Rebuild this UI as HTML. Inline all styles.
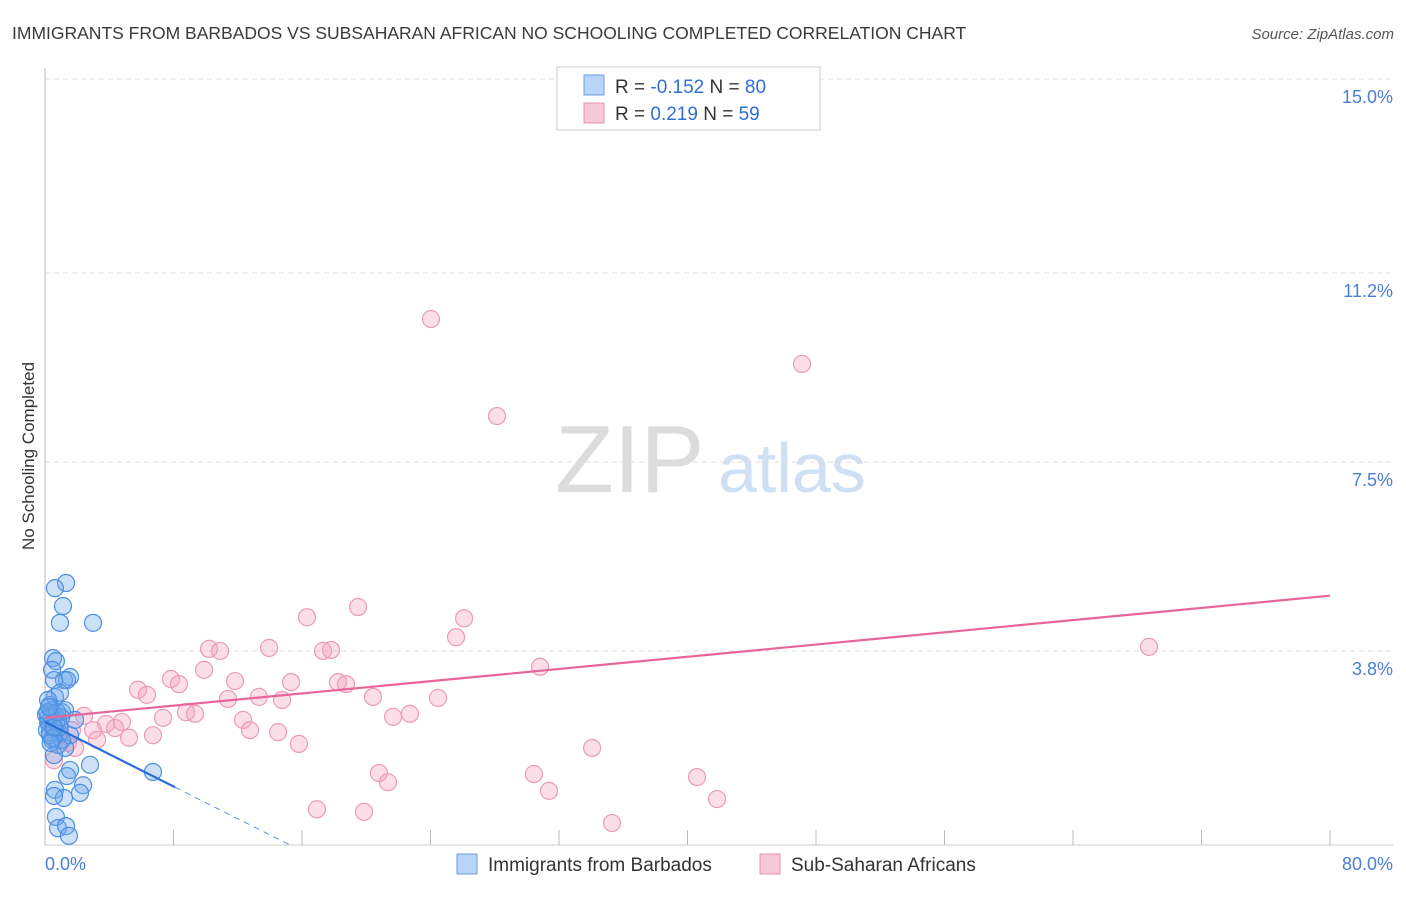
<!DOCTYPE html>
<html><head><meta charset="utf-8"><style>
body{margin:0;background:#fff;font-family:"Liberation Sans",sans-serif;}
svg text{font-family:"Liberation Sans",sans-serif;}
</style></head><body>
<svg id="chart" width="1406" height="892">
<text x="12" y="39" font-size="17.5" fill="#3a3a3a">IMMIGRANTS FROM BARBADOS VS SUBSAHARAN AFRICAN NO SCHOOLING COMPLETED CORRELATION CHART</text>
<text x="1394" y="39" font-size="15" fill="#555" font-style="italic" text-anchor="end">Source: ZipAtlas.com</text>
<text x="34" y="456" font-size="17" fill="#333" text-anchor="middle" transform="rotate(-90 34 456)">No Schooling Completed</text>
<text x="555" y="492" font-size="96" fill="#dcdcdc" font-family="Liberation Serif">ZIP</text>
<text x="718" y="492" font-size="70" fill="#cfe0f5">atlas</text>
<g id="grid"></g><g id="pts"></g><g id="lines"></g>
<g>
<rect x="557" y="67" width="263" height="63" fill="#fff" stroke="#ccc"/>
<rect x="584" y="75" width="20" height="20" fill="#b8d4f8" stroke="#6a9fe0"/>
<rect x="584" y="103" width="20" height="20" fill="#f8c8d8" stroke="#e890b0"/>
<text x="615" y="93" font-size="19" fill="#333">R = <tspan fill="#2f6fd6">-0.152</tspan>   N = <tspan fill="#2f6fd6">80</tspan></text>
<text x="615" y="120" font-size="19" fill="#333">R =  <tspan fill="#2f6fd6"> 0.219</tspan>   N =  <tspan fill="#2f6fd6">59</tspan></text>
</g>
<g>
<rect x="457" y="854" width="20" height="20" fill="#b8d4f8" stroke="#6a9fe0"/>
<text x="488" y="871" font-size="19" fill="#333">Immigrants from Barbados</text>
<rect x="760" y="854" width="20" height="20" fill="#f8c8d8" stroke="#e890b0"/>
<text x="791" y="871" font-size="19" fill="#333">Sub-Saharan Africans</text>
</g>
<text x="45" y="870" font-size="18" fill="#4a7fd4">0.0%</text>
<text x="1393" y="870" font-size="18" fill="#4a7fd4" text-anchor="end">80.0%</text>
</svg>
<script>
const yTicks=[15.0,11.2,7.5,3.8];
const yTickLabels=["15.0%","11.2%","7.5%","3.8%"];
const xTicks=[8,16,24,32,40,48,56,64,72,80];
const blueX=[1.31,0.62,1.12,0.93,2.99,0.50,0.68,0.44,1.18,1.56,1.37,0.56,0.62,0.93,0.31,0.44,0.62,0.19,0.81,1.06,1.25,0.31,0.12,0.62,0.93,1.56,1.87,0.44,0.81,1.25,0.56,2.80,1.56,1.37,2.37,0.62,2.18,1.18,0.56,6.72,0.68,0.81,1.31,1.49,0.19,0.06,0.31,1.06,0.2,0.4,0.7,0.9,0.3,0.5,1.0,0.15,0.35,0.55,0.75,0.25];
const blueY=[5.13,5.03,4.68,4.35,4.35,3.66,3.60,3.43,3.23,3.29,3.23,3.23,2.90,2.98,2.74,2.64,2.55,2.49,2.45,2.60,2.64,2.35,2.25,2.29,2.19,2.15,2.45,2.06,1.96,1.90,1.76,1.57,1.47,1.35,1.17,1.08,1.02,0.92,0.96,1.43,0.55,0.33,0.37,0.18,2.84,2.55,2.15,2.06,2.4,2.5,2.4,2.3,2.2,2.1,2.5,2.6,2.0,2.3,2.6,2.7];
const pinkX=[24.03,47.13,28.14,68.73,16.31,19.49,26.09,25.59,10.21,10.90,13.95,17.31,17.81,30.82,7.84,9.90,8.34,5.79,6.35,11.83,15.32,18.24,18.74,13.32,11.39,20.42,24.47,8.78,9.34,7.35,12.33,14.76,22.72,21.67,2.43,4.79,3.80,4.36,2.99,12.76,14.51,5.23,6.72,3.24,15.81,1.43,1.87,34.06,0.56,20.79,21.35,30.44,40.59,31.38,41.84,16.93,19.86,35.30,0.93,1.68];
const pinkY=[10.30,9.42,8.40,3.88,4.46,4.66,4.44,4.07,3.84,3.80,3.86,3.80,3.82,3.49,3.25,3.43,3.15,3.04,2.94,3.21,3.19,3.19,3.15,2.90,2.86,2.90,2.88,2.60,2.57,2.49,2.45,2.84,2.57,2.51,2.53,2.41,2.37,2.29,2.25,2.25,2.21,2.10,2.15,2.06,1.98,2.00,1.90,1.90,1.66,1.41,1.23,1.39,1.33,1.06,0.90,0.70,0.65,0.43,2.15,2.25];
const blueTrend=[2.41,-0.158];
const pinkTrend=[2.49,0.0299];
const X0=45,X1=1330,Y0=845,Y1=79;
const sx=v=>X0+(X1-X0)*v/80, sy=v=>Y0-(Y0-Y1)*v/15;
const NS="http://www.w3.org/2000/svg";
function mk(tag,attrs,parent){const e=document.createElementNS(NS,tag);for(const k in attrs)e.setAttribute(k,attrs[k]);parent.appendChild(e);return e;}
const grid=document.getElementById('grid');
yTicks.forEach((t,i)=>{
 const l=mk('line',{x1:X0,x2:1393,y1:sy(t),y2:sy(t),stroke:'#ddd','stroke-dasharray':'5,4'},grid);
 
 
 const tx=mk('text',{x:1393,y:sy(t)+24,'font-size':18,fill:'#4a7fd4','text-anchor':'end'},grid);
 tx.textContent=yTickLabels[i];
 
 
});
const ax=mk('line',{x1:X0,x2:X0,y1:68,y2:Y0,stroke:'#bbb'},grid);


const bx=mk('line',{x1:X0,x2:1393,y1:Y0,y2:Y0,stroke:'#ccc'},grid);


xTicks.forEach(t=>{
 const l=mk('line',{x1:sx(t),x2:sx(t),y1:Y0-15,y2:Y0,stroke:'#bbb'},grid);
 
 
});
const pts=document.getElementById('pts');
pinkX.forEach((x,i)=>{
 const c=mk('circle',{cx:sx(x),cy:sy(pinkY[i]),r:8.5,fill:'rgba(244,160,190,0.35)',stroke:'#eb9bb8','stroke-width':1.2},pts);
 
 
});
blueX.forEach((x,i)=>{
 const c=mk('circle',{cx:sx(x),cy:sy(blueY[i]),r:8.5,fill:'rgba(110,165,235,0.35)',stroke:'#4d8fe0','stroke-width':1.2},pts);
 
 
});
const lines=document.getElementById('lines');
const pl=mk('line',{x1:sx(0),y1:sy(pinkTrend[0]),x2:sx(80),y2:sy(pinkTrend[0]+pinkTrend[1]*80),stroke:'#e8659a','stroke-width':2.2},lines);


const bEnd=8.1, bZero=-blueTrend[0]/blueTrend[1];
const bl=mk('line',{x1:sx(0),y1:sy(blueTrend[0]),x2:sx(bEnd),y2:sy(blueTrend[0]+blueTrend[1]*bEnd),stroke:'#2a6fd8','stroke-width':2.2},lines);


const bd=mk('line',{x1:sx(bEnd),y1:sy(blueTrend[0]+blueTrend[1]*bEnd),x2:sx(bZero),y2:sy(0),stroke:'#5a90e0','stroke-width':1,'stroke-dasharray':'6,5'},lines);


</script>
</body></html>
